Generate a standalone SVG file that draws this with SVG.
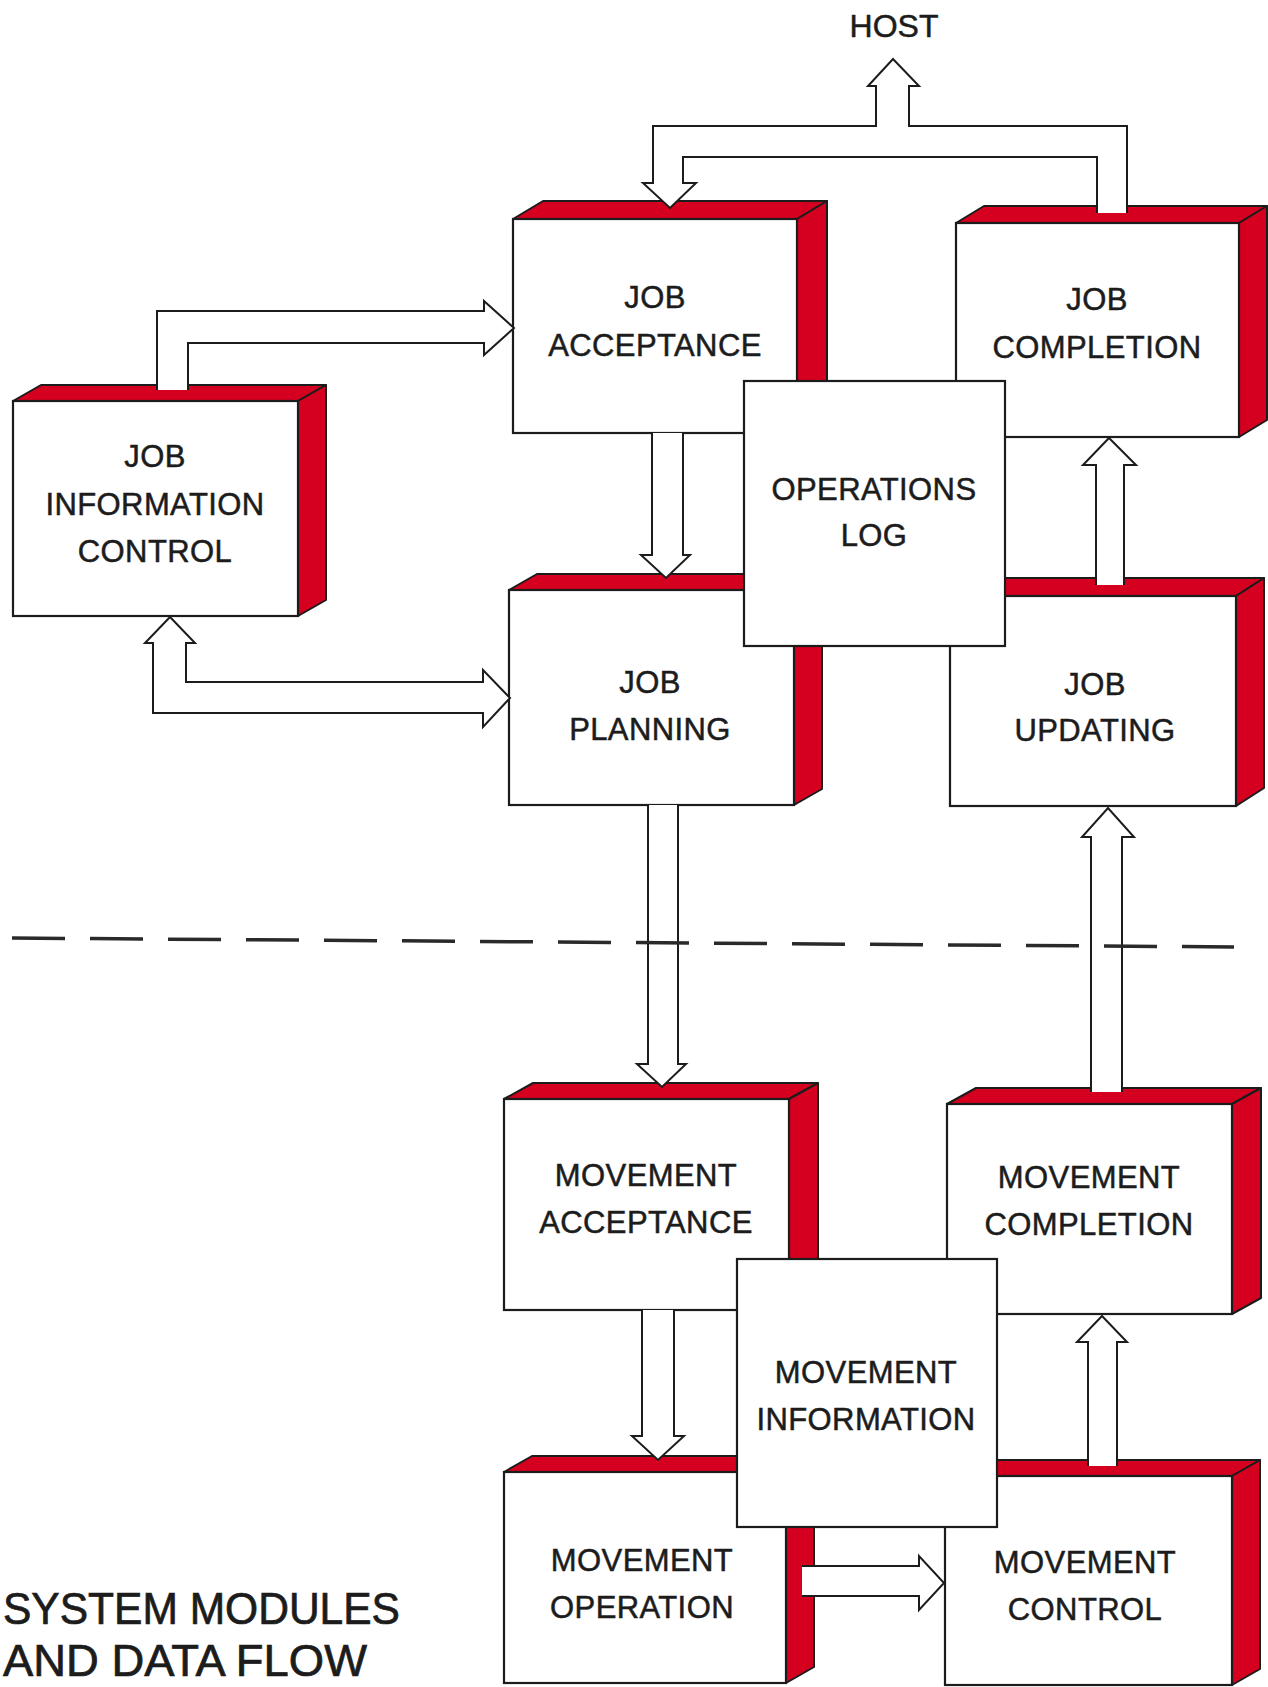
<svg xmlns="http://www.w3.org/2000/svg" width="1268" height="1687" viewBox="0 0 1268 1687">
<defs>
<style>
.front{fill:#fff;stroke:#1c1c1c;stroke-width:2.2}
.red{fill:#d50020;stroke:#1c1c1c;stroke-width:2;stroke-linejoin:round}
.conn{fill:#fff;stroke:#1c1c1c;stroke-width:2;stroke-linejoin:miter}
.lbl{font-family:"Liberation Sans",Arial,sans-serif;font-size:31px;letter-spacing:0.4px;fill:#1c1c1c;stroke:#1c1c1c;stroke-width:0.5;text-anchor:middle}
.title{font-family:"Liberation Sans",Arial,sans-serif;font-size:44px;fill:#1c1c1c;stroke:#1c1c1c;stroke-width:0.7}
.dash{stroke:#2a2a2a;stroke-width:3.5;stroke-dasharray:53 25;fill:none}
</style>
</defs>
<rect width="1268" height="1687" fill="#fff"/>

<g id="job-information-control">
<polygon class="red" points="13,401 41,385 326,385 298,401"/>
<polygon class="red" points="298,401 326,385 326,600 298,616"/>
<rect class="front" x="13" y="401" width="285" height="215"/>
<text class="lbl" x="155" y="467">JOB</text>
<text class="lbl" x="155" y="515">INFORMATION</text>
<text class="lbl" x="155" y="562">CONTROL</text>
</g>

<g id="job-acceptance">
<polygon class="red" points="513,219 543,201 827,201 797,219"/>
<polygon class="red" points="797,219 827,201 827,415 797,433"/>
<rect class="front" x="513" y="219" width="284" height="214"/>
<text class="lbl" x="655" y="308">JOB</text>
<text class="lbl" x="655" y="356">ACCEPTANCE</text>
</g>

<g id="job-completion">
<polygon class="red" points="956,223 984,206 1267,206 1239,223"/>
<polygon class="red" points="1239,223 1267,206 1267,420 1239,437"/>
<rect class="front" x="956" y="223" width="283" height="214"/>
<text class="lbl" x="1097" y="310">JOB</text>
<text class="lbl" x="1097" y="358">COMPLETION</text>
</g>

<g id="job-planning">
<polygon class="red" points="509,590 537,574 822,574 794,590"/>
<polygon class="red" points="794,590 822,574 822,789 794,805"/>
<rect class="front" x="509" y="590" width="285" height="215"/>
<text class="lbl" x="650" y="693">JOB</text>
<text class="lbl" x="650" y="740">PLANNING</text>
</g>

<g id="job-updating">
<polygon class="red" points="950,596 978,578 1264,578 1236,596"/>
<polygon class="red" points="1236,596 1264,578 1264,788 1236,806"/>
<rect class="front" x="950" y="596" width="286" height="210"/>
<text class="lbl" x="1095" y="695">JOB</text>
<text class="lbl" x="1095" y="741">UPDATING</text>
</g>

<g id="movement-acceptance">
<polygon class="red" points="504,1099 533,1083 818,1083 789,1099"/>
<polygon class="red" points="789,1099 818,1083 818,1294 789,1310"/>
<rect class="front" x="504" y="1099" width="285" height="211"/>
<text class="lbl" x="646" y="1186">MOVEMENT</text>
<text class="lbl" x="646" y="1233">ACCEPTANCE</text>
</g>

<g id="movement-completion">
<polygon class="red" points="947,1104 976,1088 1261,1088 1232,1104"/>
<polygon class="red" points="1232,1104 1261,1088 1261,1298 1232,1314"/>
<rect class="front" x="947" y="1104" width="285" height="210"/>
<text class="lbl" x="1089" y="1188">MOVEMENT</text>
<text class="lbl" x="1089" y="1235">COMPLETION</text>
</g>

<g id="movement-operation">
<polygon class="red" points="504,1472 532,1456 814,1456 786,1472"/>
<polygon class="red" points="786,1472 814,1456 814,1667 786,1683"/>
<rect class="front" x="504" y="1472" width="282" height="211"/>
<text class="lbl" x="642" y="1571">MOVEMENT</text>
<text class="lbl" x="642" y="1618">OPERATION</text>
</g>

<g id="movement-control">
<polygon class="red" points="945,1476 973,1460 1260,1460 1232,1476"/>
<polygon class="red" points="1232,1476 1260,1460 1260,1669 1232,1685"/>
<rect class="front" x="945" y="1476" width="287" height="209"/>
<text class="lbl" x="1085" y="1573">MOVEMENT</text>
<text class="lbl" x="1085" y="1620">CONTROL</text>
</g>

<g id="connectors">
<path class="conn" d="M1097,213 V157 H683 V183 H696 L670,208 L643,183 H653 V126 H876 V86 H868 L893,59 L919,86 H909 V126 H1127 V213"/>
<path class="conn" d="M188,390 V343 H484 V355 L514,328 L484,301 V311 H157 V390"/>
<path class="conn" d="M170,617 L195,643 H186 V682 H483 V670 L510,698 L483,727 V713 H153 V643 H145 Z"/>
<path class="conn" d="M652,433 V555 H641 L666,578 L690,555 H683 V433"/>
<path class="conn" d="M648,805 V1064 H637 L662,1087 L686,1064 H678 V805"/>
<path class="conn" d="M642,1310 V1436 H632 L658,1460 L684,1436 H674 V1310"/>
<path class="conn" d="M802,1566 H919 V1556 L944,1583 L919,1610 V1596 H802"/>
<path class="conn" d="M1088,1466 V1342 H1077 L1102,1316 L1127,1342 H1117 V1466"/>
<path class="conn" d="M1091,1092 V837 H1082 L1108,808 L1134,837 H1122 V1092"/>
<path class="conn" d="M1096,585 V465 H1083 L1109,438 L1136,465 H1124 V585"/>
</g>

<g id="operations-log">
<rect class="front" x="744" y="381" width="261" height="265"/>
<text class="lbl" x="874" y="500">OPERATIONS</text>
<text class="lbl" x="874" y="546">LOG</text>
</g>

<g id="movement-information">
<rect class="front" x="737" y="1259" width="260" height="268"/>
<text class="lbl" x="866" y="1383">MOVEMENT</text>
<text class="lbl" x="866" y="1430">INFORMATION</text>
</g>

<g id="host">
<text class="lbl" x="894" y="37" style="font-size:32px;letter-spacing:0px">HOST</text>
</g>

<line id="boundary" class="dash" x1="12" y1="938" x2="1234" y2="947"/>

<g id="title">
<text class="title" x="3" y="1624" textLength="397" lengthAdjust="spacingAndGlyphs">SYSTEM MODULES</text>
<text class="title" x="3" y="1676" textLength="364" lengthAdjust="spacingAndGlyphs">AND DATA FLOW</text>
</g>
</svg>
